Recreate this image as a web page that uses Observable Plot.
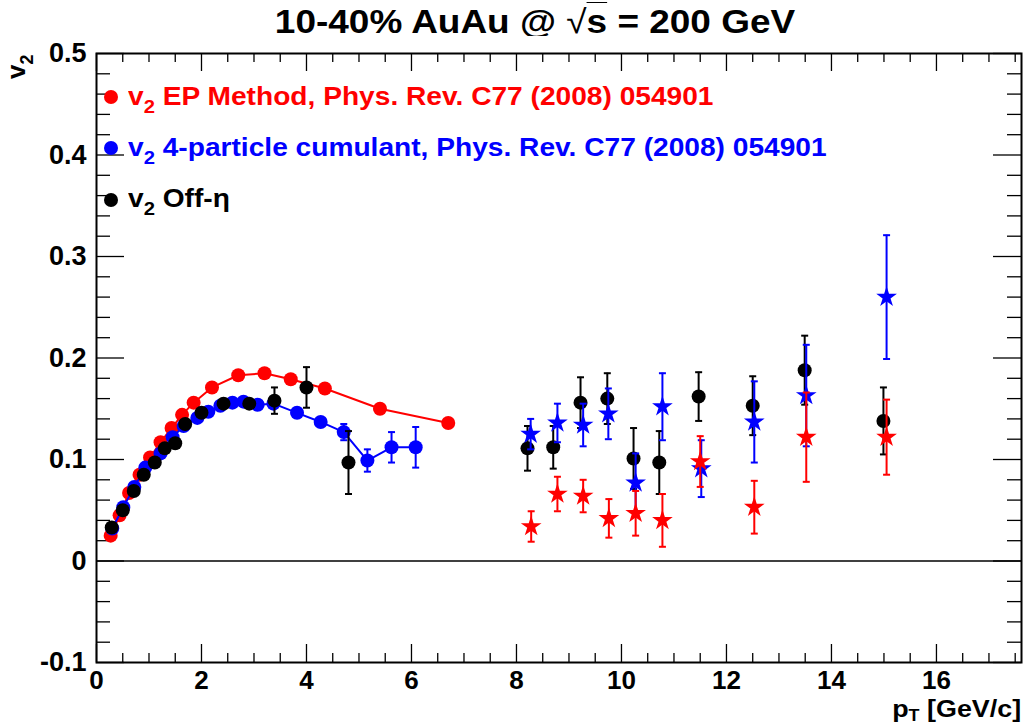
<!DOCTYPE html>
<html><head><meta charset="utf-8">
<script src="https://cdn.jsdelivr.net/npm/d3@7"></script>
<script src="https://cdn.jsdelivr.net/npm/@observablehq/plot@0.6"></script>
<style>
body{margin:0;background:#fff;font-family:"Liberation Sans",Arial,Helvetica,sans-serif;}
#wrap{position:relative;width:1026px;height:726px;overflow:hidden;background:#fff}
#title{position:absolute;left:535px;top:4px;transform:translateX(-50%) scaleX(1.12);transform-origin:50% 50%;font-weight:bold;font-size:33px;line-height:36px;white-space:nowrap}
#title .sq{font-weight:normal}
#title .ov{text-decoration:overline;text-decoration-thickness:1px}
#chart{position:absolute;left:0;top:36px}
.leg{position:absolute;left:128px;font-weight:bold;font-size:25px;line-height:25px;white-space:nowrap;transform:scaleX(1.125);transform-origin:0 50%}
.leg sub{font-size:18px;vertical-align:baseline;position:relative;top:8px}
#ytitle sub{font-size:18px;vertical-align:baseline;position:relative;top:8px}
#xtitle sub{font-size:16px;vertical-align:baseline;position:relative;top:4px;line-height:0}
.mk{position:absolute;left:104px;width:14px;height:14px;border-radius:50%}
#ytitle{position:absolute;left:3px;top:79px;transform:rotate(-90deg);transform-origin:0 0;font-weight:bold;font-size:26px;line-height:26px;white-space:nowrap}
#xtitle{position:absolute;right:5px;top:700px;font-weight:bold;font-size:24px;line-height:18px;white-space:nowrap;transform:scaleX(1.12);transform-origin:100% 50%}
</style></head>
<body>
<div id="wrap">
  <div id="title">10-40% AuAu @ <span class="sq">√</span><span class="ov">s</span> = 200 GeV</div>
  <div id="chart"></div>
  <div class="mk" style="top:90px;background:#ff0000"></div>
  <div class="leg" style="top:84px;color:#ff0000">v<sub>2</sub> EP Method, Phys. Rev. C77 (2008) 054901</div>
  <div class="mk" style="top:141px;background:#0000ff"></div>
  <div class="leg" style="top:135px;color:#0000ff">v<sub>2</sub> 4-particle cumulant, Phys. Rev. C77 (2008) 054901</div>
  <div class="mk" style="top:193px;background:#000"></div>
  <div class="leg" style="top:186px;color:#000">v<sub>2</sub> Off-η</div>
  <div id="ytitle">v<sub>2</sub></div>
  <div id="xtitle">p<sub>T</sub> [GeV/c]</div>
</div>
<script>
// ---- Data ----
// v2 EP method (line + circles)
const epPt = [0.27,0.44,0.62,0.82,1.02,1.22,1.43,1.63,1.85,2.2,2.7,3.2,3.7,4.35,5.4,6.7];
const epV  = [0.025,0.045,0.067,0.085,0.102,0.117,0.131,0.144,0.156,0.171,0.183,0.185,0.179,0.170,0.150,0.136];

// v2 4-particle cumulant (line + circles)
const c4Pt  = [0.30,0.51,0.72,0.93,1.22,1.45,1.66,1.92,2.13,2.36,2.59,2.80,3.07,3.37,3.82,4.27,4.71,5.16,5.62,6.08];
const c4V   = [0.032,0.053,0.073,0.092,0.106,0.122,0.133,0.141,0.147,0.153,0.156,0.157,0.154,0.155,0.146,0.137,0.127,0.099,0.112,0.112];
const c4Err = [0.001,0.001,0.001,0.001,0.001,0.001,0.002,0.002,0.002,0.002,0.002,0.003,0.003,0.003,0.004,0.005,0.008,0.011,0.015,0.020];

// v2 Off-eta (black circles with errors)
const offPt  = [0.29,0.50,0.71,0.90,1.11,1.30,1.50,1.69,2.00,2.42,2.91,3.39,4.00,4.80,8.21,8.70,9.22,9.73,10.23,10.72,11.47,12.50,13.49,14.99];
const offV   = [0.033,0.050,0.069,0.085,0.097,0.111,0.116,0.135,0.146,0.155,0.155,0.158,0.171,0.097,0.111,0.112,0.156,0.160,0.101,0.097,0.162,0.153,0.188,0.138];
const offErr = [0.001,0.001,0.001,0.001,0.002,0.002,0.002,0.002,0.003,0.004,0.005,0.013,0.020,0.031,0.022,0.021,0.025,0.025,0.030,0.031,0.024,0.029,0.034,0.033];

// high-pT cumulant (blue stars)
const c4hPt  = [8.27,8.78,9.27,9.75,10.27,10.78,11.52,12.53,13.52,15.05];
const c4hV   = [0.125,0.136,0.134,0.145,0.077,0.152,0.091,0.137,0.163,0.260];
const c4hErr = [0.015,0.019,0.021,0.025,0.029,0.033,0.028,0.040,0.050,0.061];

// high-pT EP (red stars)
const ephPt  = [8.28,8.78,9.27,9.76,10.27,10.78,11.50,12.53,13.52,15.05];
const ephV   = [0.034,0.066,0.064,0.042,0.047,0.040,0.098,0.053,0.122,0.122];
const ephErr = [0.015,0.017,0.016,0.019,0.022,0.026,0.025,0.026,0.044,0.037];

// axis ticks
const xLabels = [0,2,4,6,8,10,12,14,16];
const yLabels = [-0.1,0,0.1,0.2,0.3,0.4,0.5];
const xMinor = d3.range(0,17.6,0.5).filter(v => Math.abs(v/2 - Math.round(v/2)) > 1e-6);
const yMinor = d3.range(-0.1,0.5001,0.02).map(v=>+v.toFixed(2)).filter(v => Math.abs(v*10 - Math.round(v*10)) > 1e-6);

const zip = (p,v,e) => p.map((x,i)=>({pt:x, v:v[i], e:e ? e[i] : 0}));
const ep = zip(epPt, epV), c4 = zip(c4Pt, c4V, c4Err), off = zip(offPt, offV, offErr);
const c4h = zip(c4hPt, c4hV, c4hErr), eph = zip(ephPt, ephV, ephErr);

const W = 1026, H = 690, mL = 96, mR = 5, mT = 17, mB = 64;
const fw = W - mL - mR, fh = H - mT - mB;

const hbar = {draw(ctx, size){ const r = Math.sqrt(size/Math.PI); ctx.moveTo(-r,0); ctx.lineTo(r,0); }};

function errMarks(data, color){
  return [
    Plot.ruleX(data, {x:"pt", y1:d=>d.v-d.e, y2:d=>d.v+d.e, stroke:color, strokeWidth:2}),
    Plot.dot(data, {x:"pt", y:d=>d.v-d.e, symbol:hbar, r:3.5, stroke:color, strokeWidth:2, fill:"none"}),
    Plot.dot(data, {x:"pt", y:d=>d.v+d.e, symbol:hbar, r:3.5, stroke:color, strokeWidth:2, fill:"none"})
  ];
}

const fmtY = d => d === 0 ? "0" : (d < 0 ? "-" + Math.abs(d).toFixed(1) : d.toFixed(1));

const chart = Plot.plot({
  width: W, height: H,
  marginLeft: mL, marginRight: mR, marginTop: mT, marginBottom: mB,
  style: {fontFamily: '"Liberation Sans", Arial, sans-serif', background: "#fff", overflow: "visible"},
  x: {domain: [0, 17.62]},
  y: {domain: [-0.1, 0.5]},
  marks: [
    // ticks (inward, ROOT style)
    Plot.ruleX(xLabels, {x: d=>d, insetTop: fh-18, stroke:"#000", strokeWidth:1.3}),
    Plot.ruleX(xMinor, {x: d=>d, insetTop: fh-9, stroke:"#000", strokeWidth:1.3}),
    Plot.ruleX(xLabels, {x: d=>d, insetBottom: fh-18, stroke:"#000", strokeWidth:1.3}),
    Plot.ruleX(xMinor, {x: d=>d, insetBottom: fh-9, stroke:"#000", strokeWidth:1.3}),
    Plot.ruleY(yLabels, {y: d=>d, insetRight: fw-28, stroke:"#000", strokeWidth:1.3}),
    Plot.ruleY(yMinor, {y: d=>d, insetRight: fw-14, stroke:"#000", strokeWidth:1.3}),
    Plot.ruleY(yLabels, {y: d=>d, insetLeft: fw-28, stroke:"#000", strokeWidth:1.3}),
    Plot.ruleY(yMinor, {y: d=>d, insetLeft: fw-14, stroke:"#000", strokeWidth:1.3}),
    Plot.axisX({ticks: xLabels, tickSize: 0, tickPadding: 8, tickFormat: d=>String(d), fontSize: 26, fontWeight: "bold", fontFamily: '"Liberation Sans Narrow", "Liberation Sans", Arial, sans-serif', label: null}),
    Plot.axisY({ticks: yLabels, tickSize: 0, tickPadding: 10, tickFormat: fmtY, fontSize: 27, fontWeight: "bold", label: null}),
    Plot.ruleY([0], {stroke:"#000", strokeWidth:1.5}),
    // EP method
    Plot.line(ep, {x:"pt", y:"v", stroke:"#ff0000", strokeWidth:2}),
    Plot.dot(ep, {x:"pt", y:"v", r:7, fill:"#ff0000"}),
    // 4-particle cumulant
    Plot.line(c4, {x:"pt", y:"v", stroke:"#0000ff", strokeWidth:2}),
    ...errMarks(c4.filter(d=>d.e>0.005), "#0000ff"),
    Plot.dot(c4, {x:"pt", y:"v", r:7, fill:"#0000ff"}),
    // Off-eta
    ...errMarks(off.filter(d=>d.e>0.005), "#000"),
    Plot.dot(off, {x:"pt", y:"v", r:7, fill:"#000"}),
    // high pT stars
    ...errMarks(c4h, "#0000ff"),
    Plot.dot(c4h, {x:"pt", y:"v", r:6.5, symbol:"star", fill:"#0000ff"}),
    ...errMarks(eph, "#ff0000"),
    Plot.dot(eph, {x:"pt", y:"v", r:6.5, symbol:"star", fill:"#ff0000"}),
    Plot.frame({stroke:"#000", strokeWidth:2})
  ]
});
document.getElementById("chart").appendChild(chart);
</script>
</body></html>
